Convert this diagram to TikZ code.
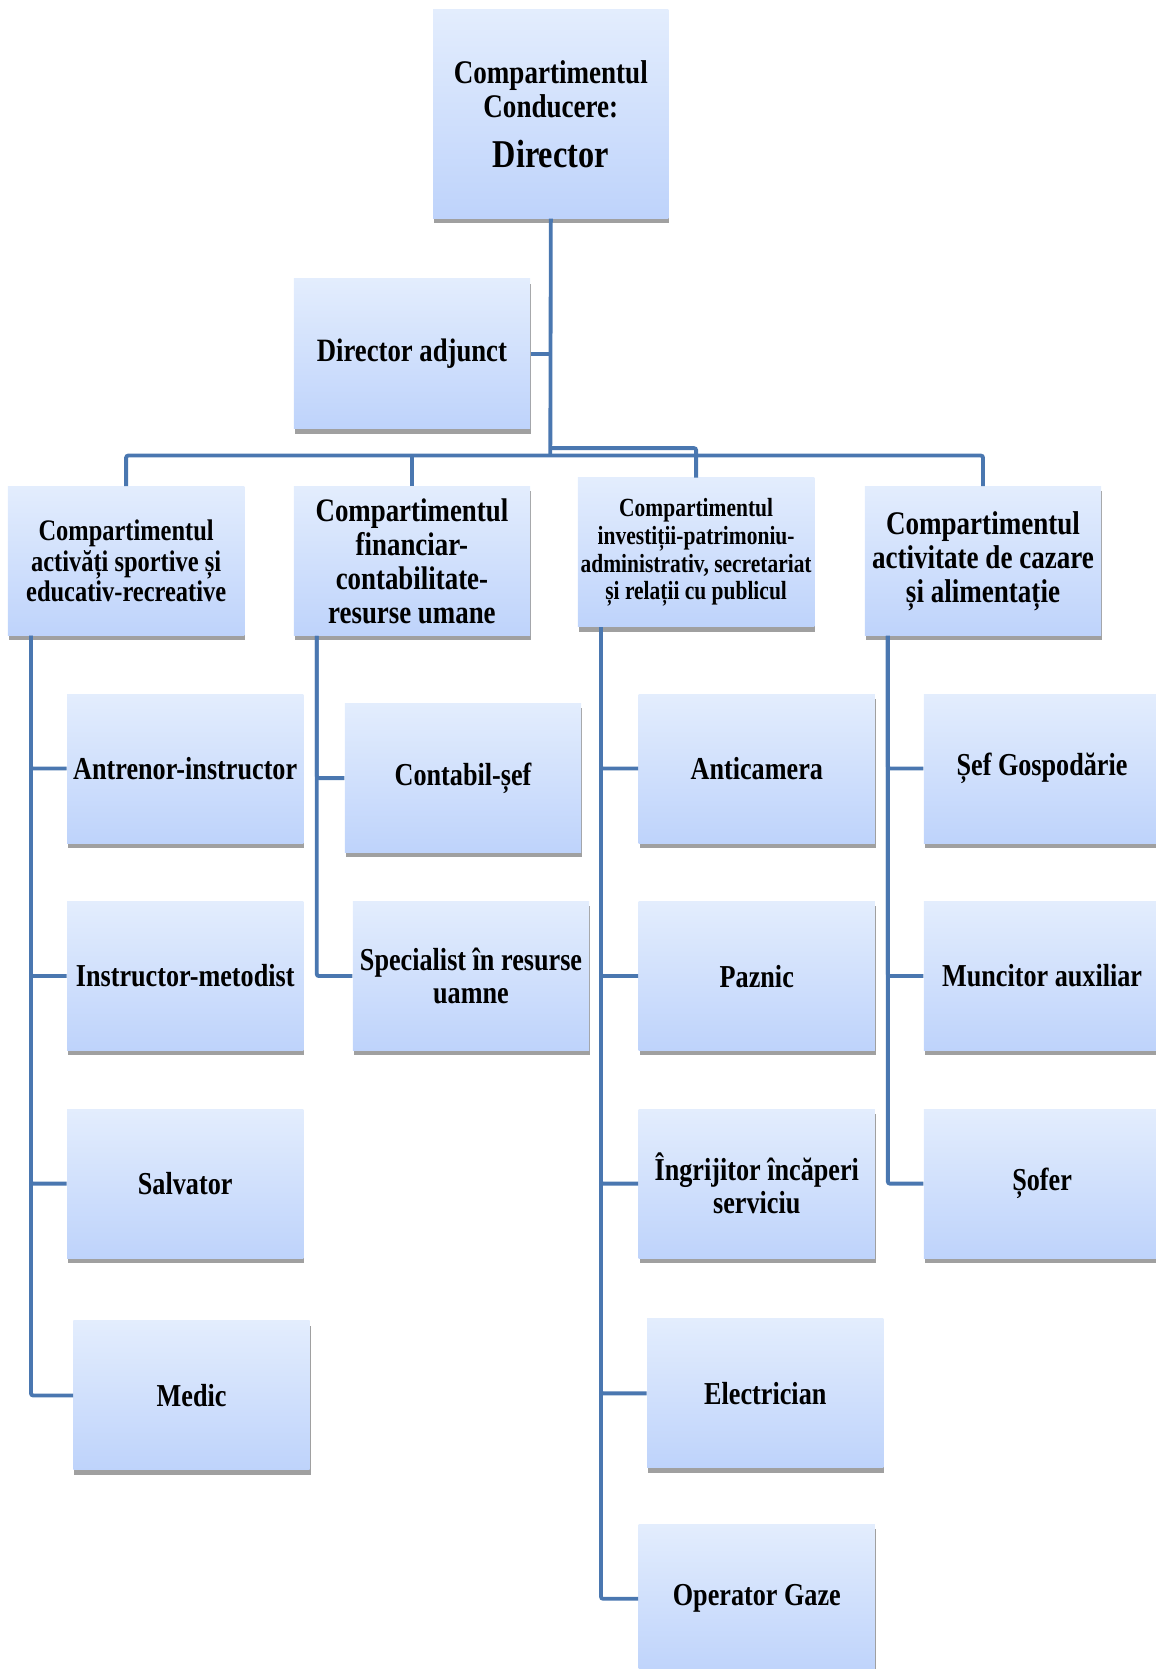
\documentclass[tikz,border=0pt]{standalone}
\usepackage{fontspec}
\setmainfont{Liberation Serif}[FakeStretch=0.82]
\usepackage{tikz}
\usetikzlibrary{calc}
\usetikzlibrary{shadows}
\definecolor{boxtop}{RGB}{227,237,253}
\definecolor{boxbot}{RGB}{190,211,251}
\definecolor{linkblue}{RGB}{74,119,176}
\definecolor{shadowgray}{RGB}{160,160,160}
\tikzstyle{unit} = [rectangle, draw=none, top color=boxtop, bottom color=boxbot, minimum width=111pt, minimum height=70pt, inner sep=1pt, align=center, font=\bfseries\fontsize{15}{15.6}\selectfont, drop shadow={shadow xshift=0.4pt, shadow yshift=-2.2pt, fill=shadowgray, opacity=1}]
\tikzstyle{link} = [draw=linkblue, line width=1.8pt, rounded corners=1pt]

\begin{document}
\begin{tikzpicture}[x=0.5pt, y=-0.5pt]
\useasboundingbox (0,0) rectangle (1086,1568);
% conducere
\node [unit, minimum width=110.5pt, minimum height=98pt, font=\bfseries\fontsize{15.5}{16}\selectfont] (dir) at (517.5,107) {Compartimentul\\Conducere:\\[7.5pt]{\fontsize{18.5}{19}\selectfont Director}};
\node [unit, minimum height=70.5pt, font=\bfseries\fontsize{15.3}{16}\selectfont] (adj) at (387,332.5) {Director adjunct};
% compartimente
\node [unit, font=\bfseries\fontsize{14}{14.5}\selectfont] (sport) at (118.5,527) {Compartimentul\\activăți sportive și\\educativ-recreative};
\node [unit, font=\bfseries\fontsize{15.4}{16}\selectfont] (fin) at (387,527) {Compartimentul\\financiar-\\contabilitate-\\resurse umane};
\node [unit, font=\bfseries\fontsize{12.3}{13}\selectfont] (inv) at (654,519) {Compartimentul\\investiții-patrimoniu-\\administrativ, secretariat\\și relații cu publicul};
\node [unit, font=\bfseries\fontsize{15.5}{16}\selectfont] (caz) at (923.5,527) {Compartimentul\\activitate de cazare\\și alimentație};
% posturi
\node [unit] (antr) at (174,722) {Antrenor-instructor};
\node [unit] (metod) at (174,917) {Instructor-metodist};
\node [unit] (salv) at (174,1112) {Salvator};
\node [unit] (medic) at (180,1311) {Medic};
\node [unit] (contab) at (435,731) {Contabil-șef};
\node [unit] (spec) at (442.5,917) {Specialist în resurse\\uamne};
\node [unit] (antic) at (711,722) {Anticamera};
\node [unit] (paznic) at (711,917) {Paznic};
\node [unit] (ingr) at (711,1112) {Îngrijitor încăperi\\serviciu};
\node [unit] (elec) at (719,1309) {Electrician};
\node [unit] (gaze) at (711,1502) {Operator Gaze};
\node [unit] (gosp) at (979,722) {Șef Gospodărie};
\node [unit] (munc) at (979,917) {Muncitor auxiliar};
\node [unit] (sofer) at (979,1112) {Șofer};
% legaturi
\coordinate (bar) at (517,428);
\coordinate (bar2) at (517,421);
\draw [link] (dir.south) -- (bar);
\draw [link] (adj.east) -- (adj.east -| dir.south);
\draw [link] (sport.north) |- (bar) -| (caz.north);
\draw [link] (fin.north) -- (fin.north |- bar);
\draw [link] (bar2) -| (inv.north);
\foreach \p/\c in {sport/antr, sport/metod, sport/salv, sport/medic, fin/contab, fin/spec, inv/antic, inv/paznic, inv/ingr, inv/elec, inv/gaze, caz/gosp, caz/munc, caz/sofer}
  \draw [link] ([xshift=11pt]\p.south west) |- (\c.west);
\end{tikzpicture}
\end{document}
